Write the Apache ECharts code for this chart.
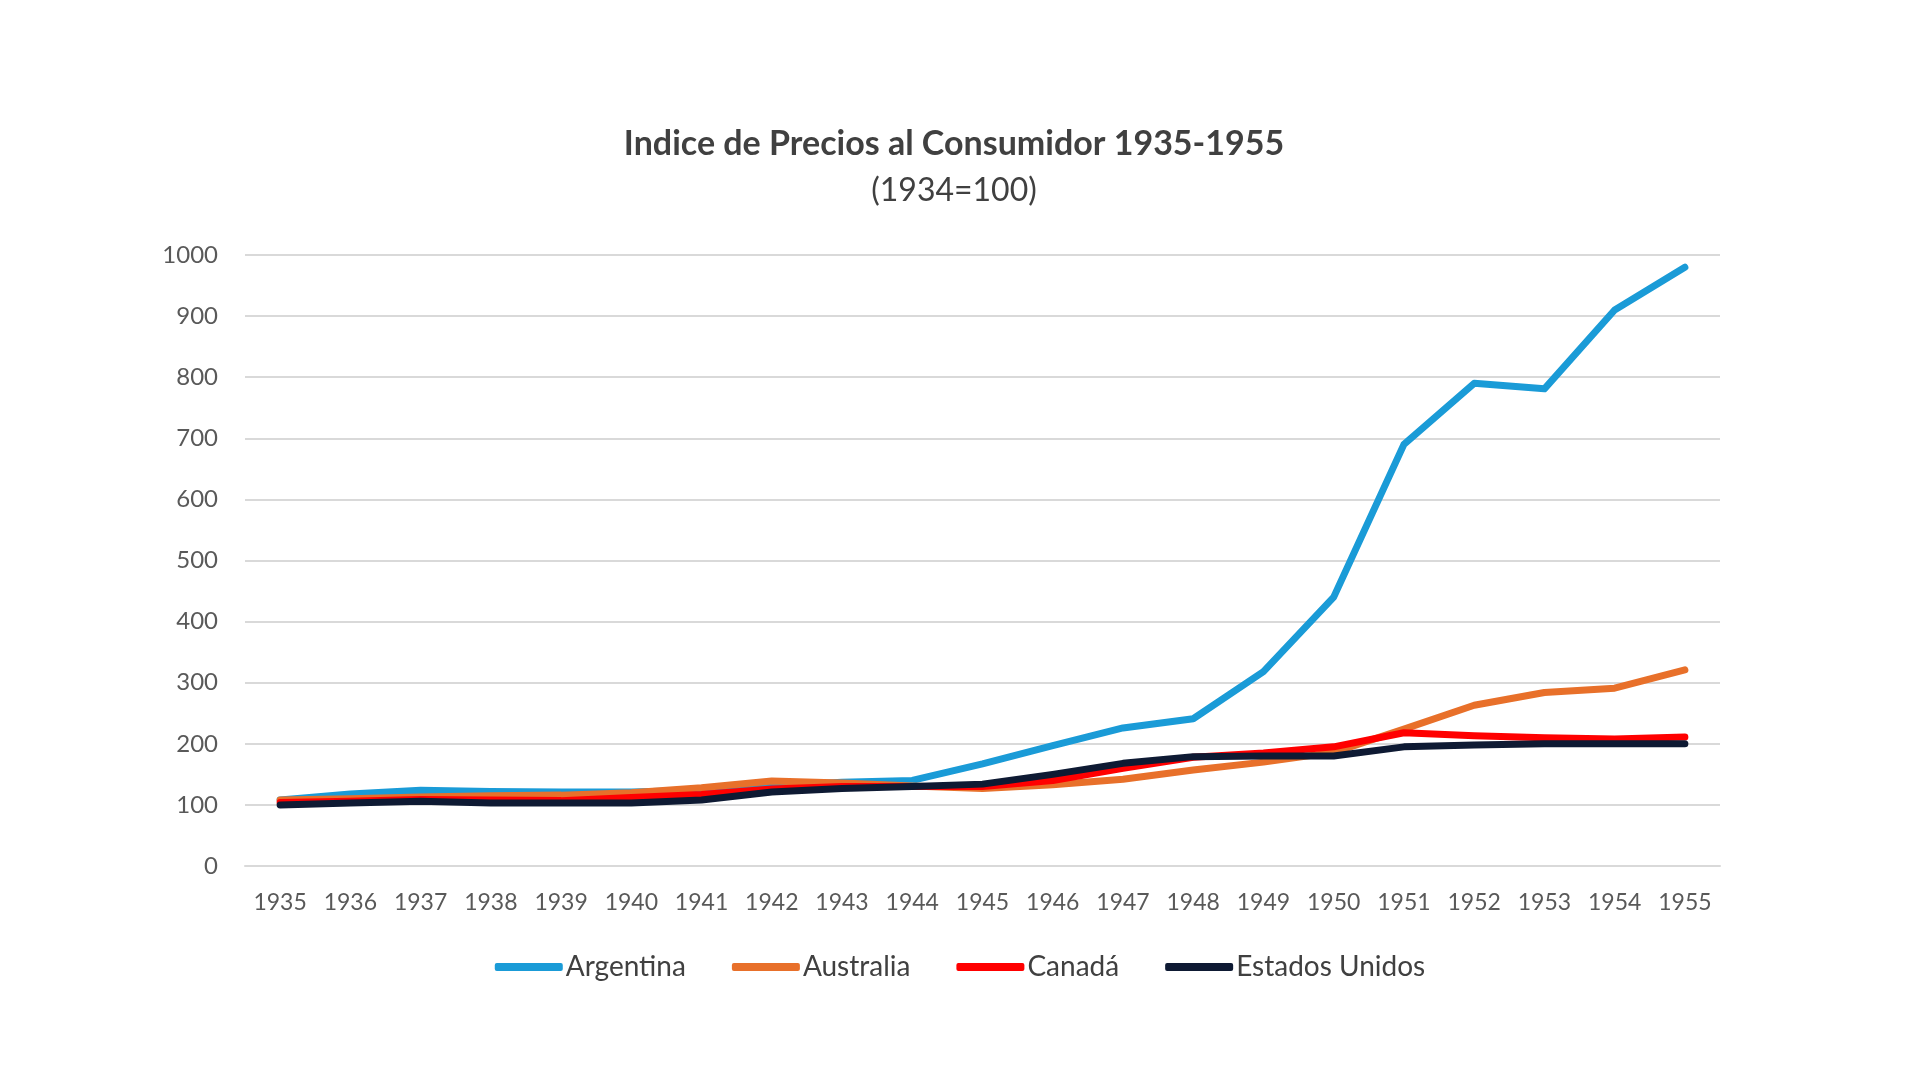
<!DOCTYPE html>
<html><head><meta charset="utf-8">
<script src="https://cdn.jsdelivr.net/npm/echarts@6/dist/echarts.min.js"></script>
<style>html,body{margin:0;padding:0;background:#fff}#c{width:1920px;height:1092px}</style>
</head><body><div id="c"></div>
<script>
const years = ['1935','1936','1937','1938','1939','1940','1941','1942','1943','1944','1945','1946','1947','1948','1949','1950','1951','1952','1953','1954','1955'];
const argentina = [108,118,124,122,121,121,124,131,137,140,167,197,226,241,318,440,690,790,781,910,980];
const australia = [108,110,113,115,116,120,128,139,136,131,127,133,142,157,170,186,224,263,284,291,321];
const canada    = [104,106,109,108,107,112,117,126,130,130,130,140,160,178,185,195,218,213,210,208,211];
const eeuu      = [100,103,106,103,103,103,108,121,127,130,134,150,168,179,180,180,195,198,200,200,200];
const yTicks = [0,100,200,300,400,500,600,700,800,900,1000];
const names = ['Argentina','Australia','Canadá','Estados Unidos'];
const colors = ['#1A9BD7','#E8702A','#FF0000','#0E1A33'];
const dataSets = [argentina, australia, canada, eeuu];

const chart = echarts.init(document.getElementById('c'), null, {renderer:'canvas'});
const FONT = 'Lato';
chart.setOption({
  backgroundColor:'#fff',
  animation:false,
  title:{
    text:'Indice de Precios al Consumidor 1935-1955',
    subtext:'(1934=100)',
    left:949, textAlign:'center', top:122,
    itemGap:14,
    textStyle:{fontFamily:FONT,fontWeight:'bold',fontSize:34,color:'#404040'},
    subtextStyle:{fontFamily:FONT,fontWeight:'normal',fontSize:32,color:'#404040'}
  },
  legend:{
    data:names, bottom:106, left:'center',
    itemWidth:68, itemHeight:8, itemGap:46, icon:'roundRect',
    textStyle:{fontFamily:FONT,fontSize:28,color:'#404040',padding:[0,0,0,-2]}
  },
  grid:{left:245,right:200,top:255,bottom:226,containLabel:false},
  xAxis:{
    type:'category', data:years, boundaryGap:true,
    axisLine:{show:true,lineStyle:{color:'#d9d9d9',width:2}},
    axisTick:{show:false},
    axisLabel:{fontFamily:FONT,fontSize:23,color:'#595959',margin:25}
  },
  yAxis:{
    type:'value', min:yTicks[0], max:yTicks[yTicks.length-1], interval:100,
    axisLine:{show:false}, axisTick:{show:false},
    splitLine:{lineStyle:{color:'#d9d9d9',width:2}},
    axisLabel:{fontFamily:FONT,fontSize:24,color:'#595959',margin:27,formatter:v=>String(v)}
  },
  series: names.map((n,i)=>({
    name:n, type:'line', data:dataSets[i], symbol:'none', smooth:false,
    lineStyle:{color:colors[i],width:7,cap:'round',join:'round'},
    itemStyle:{color:colors[i]}
  }))
});
</script></body></html>
